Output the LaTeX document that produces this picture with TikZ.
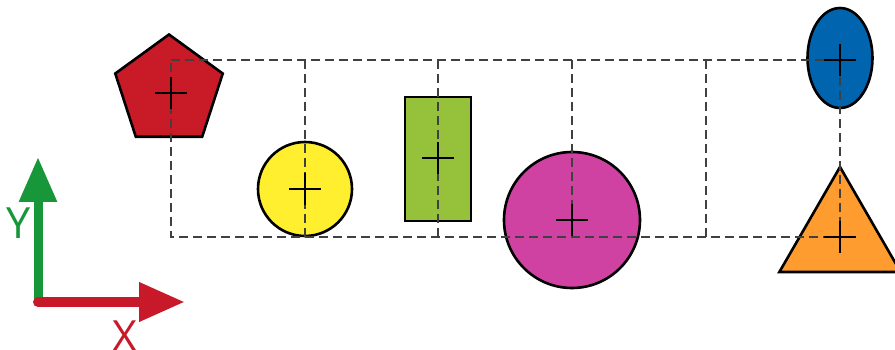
\documentclass[tikz,border=0pt]{standalone}
\usepackage{fontspec}
\setmainfont{Open Sans}
\usetikzlibrary{shapes.geometric,arrows.meta}

\definecolor{pentred}{HTML}{C91A27}
\definecolor{sunyellow}{HTML}{FFEF2E}
\definecolor{limegreen}{HTML}{95C23A}
\definecolor{plum}{HTML}{D042A2}
\definecolor{seablue}{HTML}{0064AE}
\definecolor{tangerine}{HTML}{FF9C30}
\definecolor{axisgreen}{HTML}{17963A}
\definecolor{axisred}{HTML}{C8192A}

\begin{document}
\begin{tikzpicture}[x=1pt, y=-1pt,
    shapeline/.style={draw=black, line width=2.6pt, inner sep=0pt},
    guide/.style={draw=black!75, line width=1.2pt, dash pattern=on 9pt off 5pt},
    crossline/.style={draw=black, line width=2.8pt},
    axislabel/.style={font=\fontsize{43}{43}\selectfont, anchor=base, inner sep=0pt}]
        \useasboundingbox (0,0) rectangle (895,350);

        % ==== SHAPES ====
        \node[shapeline, regular polygon, regular polygon sides=5, minimum size=113pt, fill=pentred] (pent) at (169,91) {};
        \node[shapeline, circle, minimum size=94pt, fill=sunyellow] (sun) at (305,189) {};
        \node[shapeline, rectangle, minimum width=66pt, minimum height=124pt, fill=limegreen] (bar) at (438,159) {};
        \node[shapeline, circle, minimum size=136pt, fill=plum] (disc) at (572,220) {};
        \node[shapeline, ellipse, minimum width=65pt, minimum height=100pt, fill=seablue] (egg) at (840,58) {};
        \node[shapeline, regular polygon, regular polygon sides=3, minimum size=140pt, fill=tangerine] (tri) at (840,237) {};

        % ==== GUIDE LINES ====
        \coordinate (tl) at (171,60);
        \coordinate (br) at (840,237);
        \draw[guide] (tl) -| (br) -| (tl);
        \foreach \x in {305,438,572,706}
            \draw[guide] (\x,60) -- (\x,237);

        % ==== CENTRE MARKS ====
        \foreach \c in {(171,93),(305,189),(438,158),(572,220),(840,60),(840,237)}
            \draw[crossline] \c ++(-16,0) -- ++(32,0) \c ++(0,-16) -- ++(0,32);

        % ==== AXES ====
        \draw[axisgreen, line width=9pt, -{Triangle[length=45pt, width=36pt]}] (38,302) -- (38,157);
        \draw[axisred, line width=10pt, line cap=round, -{Triangle[length=46pt, width=37pt]}] (38,302) -- (185,302);
        \node[axislabel, text=axisgreen] (ylab) at (19,239) {Y};
        \node[axislabel, text=axisred] (xlab) at (125,351) {X};
\end{tikzpicture}
\end{document}
